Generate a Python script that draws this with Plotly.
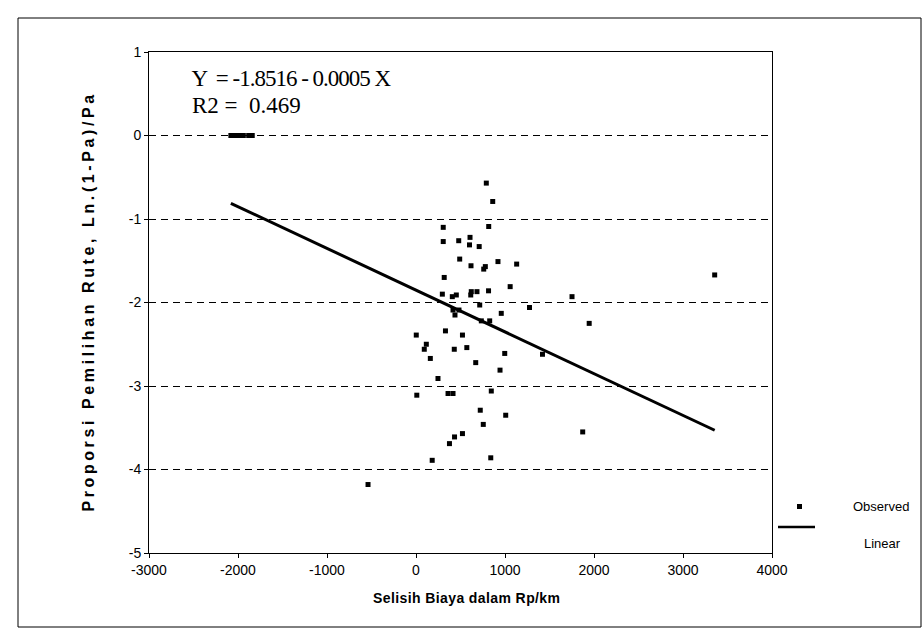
import plotly.graph_objects as go

# Observed points
obs_x = [-2080, -2030, -1990, -1940, -1880, -1840,
         790, 862, 306, 817, 306, 480, 607, 601, 710, 491,
         618, 779, 761, 921, 1131, 317, 1058, 296, 408, 453,
         621, 685, 615, 815, 716, 416, 483, 438, 958, 734,
         828, 1275, 1753, 1946, 1421, 3, 331, 522, 116, 93,
         430, 571, 161, 997, 671, 944, 247, 9, 360, 416,
         846, 722, 1008, 756, 522, 433, 376, 182, 840, 1873,
         3356, -539]
obs_y = [0, 0, 0, 0, 0, 0,
         -0.57, -0.79, -1.10, -1.09, -1.27, -1.26, -1.22, -1.31, -1.33, -1.48,
         -1.56, -1.57, -1.60, -1.51, -1.54, -1.70, -1.81, -1.90, -1.93, -1.91,
         -1.87, -1.87, -1.91, -1.86, -2.03, -2.09, -2.09, -2.15, -2.13, -2.22,
         -2.22, -2.06, -1.93, -2.25, -2.62, -2.39, -2.34, -2.39, -2.50, -2.56,
         -2.56, -2.54, -2.67, -2.61, -2.72, -2.81, -2.91, -3.11, -3.09, -3.09,
         -3.06, -3.29, -3.35, -3.46, -3.57, -3.61, -3.69, -3.89, -3.86, -3.55,
         -1.67, -4.18]

# Linear trend line end points (Y = -1.8516 - 0.0005 X)
linear_x = [-2080, 3356]
linear_y = [-0.812, -3.530]

x_ticks = [-3000, -2000, -1000, 0, 1000, 2000, 3000, 4000]
y_ticks = [1, 0, -1, -2, -3, -4, -5]

equation_text = "Y  = -1.8516 - 0.0005 X"
r2_text = "R2 =  0.469"
x_title = "Selisih Biaya dalam Rp/km"
y_title = "Proporsi Pemilihan Rute, Ln.(1-Pa)/Pa"

fig = go.Figure()
fig.add_trace(go.Scatter(x=obs_x, y=obs_y, mode="markers", name="Observed",
                         marker=dict(symbol="square", size=5, color="black"),
                         showlegend=False))
fig.add_trace(go.Scatter(x=linear_x, y=linear_y, mode="lines", name="Linear",
                         line=dict(color="black", width=3), showlegend=False))

tick_font = dict(family="Liberation Sans, Arial, sans-serif", size=14, color="black")
fig.update_xaxes(range=[-3000, 4000], tickvals=x_ticks, ticktext=[str(v) for v in x_ticks],
                 showgrid=False, zeroline=False, showline=True, linecolor="black",
                 linewidth=1, mirror=True, ticks="outside", ticklen=4, tickcolor="black",
                 tickfont=tick_font)
fig.update_yaxes(range=[-5, 1], tickvals=y_ticks, ticktext=[str(v) for v in y_ticks],
                 showgrid=True, gridcolor="black", gridwidth=1, griddash="7px,5px",
                 zeroline=False, showline=True, linecolor="black", linewidth=1,
                 mirror=True, ticks="outside", ticklen=4, tickcolor="black",
                 tickfont=tick_font)

L, R, T, B = 149, 151, 52, 90
W, H = 923, 643
pw, ph = W - L - R, H - T - B

def px(x):
    return (x - L) / pw

def py(y):
    return (H - B - y) / ph

annos = [
    dict(text=equation_text, x=px(178), y=py(78), xanchor="left", yanchor="middle",
         font=dict(family="Liberation Serif, Times New Roman, serif", size=23, color="black")),
    dict(text=r2_text, x=px(190), y=py(105), xanchor="left", yanchor="middle",
         font=dict(family="Liberation Serif, Times New Roman, serif", size=23, color="black")),
    dict(text="<b>" + x_title + "</b>", x=px(466), y=py(598), xanchor="center", yanchor="middle",
         font=dict(family="Liberation Sans, Arial, sans-serif", size=14, color="black")),
    dict(text="<b>" + y_title + "</b>", x=px(88), y=py(302), xanchor="center", yanchor="middle",
         textangle=-90, font=dict(family="Liberation Sans, Arial, sans-serif", size=16, color="black")),
    dict(text="Observed", x=px(851), y=py(506), xanchor="left", yanchor="middle",
         font=dict(family="Liberation Sans, Arial, sans-serif", size=13, color="black")),
    dict(text="Linear", x=px(862), y=py(543), xanchor="left", yanchor="middle",
         font=dict(family="Liberation Sans, Arial, sans-serif", size=13, color="black")),
]
for a in annos:
    a.update(xref="paper", yref="paper", showarrow=False)

shapes = [
    dict(type="rect", xref="paper", yref="paper", x0=px(18), x1=px(921), y0=py(627), y1=py(18),
         line=dict(color="black", width=1), layer="below"),
    dict(type="rect", xref="paper", yref="paper", x0=px(797), x1=px(802), y0=py(509), y1=py(504),
         line=dict(color="black", width=0), fillcolor="black"),
    dict(type="line", xref="paper", yref="paper", x0=px(778), x1=px(815), y0=py(527), y1=py(527),
         line=dict(color="black", width=2.5)),
]

fig.update_layout(width=W, height=H, margin=dict(l=L, r=R, t=T, b=B),
                  paper_bgcolor="white", plot_bgcolor="white",
                  annotations=annos, shapes=shapes, showlegend=False)

post_js = """
var gd = document.getElementById('{plot_id}');
function spaceTitles() {
  gd.querySelectorAll('text.annotation-text').forEach(function (t) {
    var s = t.textContent;
    if (s.indexOf('Proporsi') === 0) { t.style.letterSpacing = '3.6px'; }
    if (s.indexOf('Selisih') === 0) { t.style.letterSpacing = '0.4px'; }
    if (s.indexOf('Y ') === 0) { t.style.letterSpacing = '-1px'; }
  });
}
spaceTitles();
gd.on('plotly_afterplot', spaceTitles);
"""

fig.write_html("out.html", post_script=post_js)
